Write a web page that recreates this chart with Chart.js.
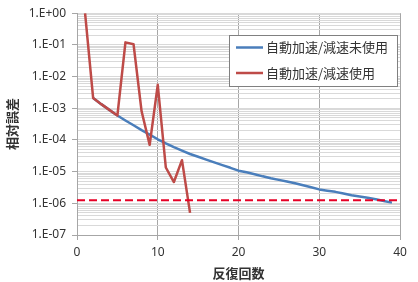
<!DOCTYPE html>
<html><head><meta charset="utf-8">
<script src="https://cdn.jsdelivr.net/npm/chart.js@4/dist/chart.umd.min.js"></script>
<style>html,body{margin:0;padding:0;background:#fff;}canvas{display:block;}</style>
</head><body>
<canvas id="c" width="418" height="282"></canvas>
<script>
// ---- data ----
const seriesNames = ['自動加速/減速未使用', '自動加速/減速使用'];
const iterNoAccel = [2,3,4,5,6,7,8,9,10,11,12,13,14,15,16,17,18,19,20,21,22,23,24,25,26,27,28,29,30,31,32,33,34,35,36,37,38,39];
const errNoAccel  = [2.1e-3,1.35e-3,8.9e-4,5.9e-4,4.1e-4,2.9e-4,2.05e-4,1.48e-4,1.05e-4,7.8e-5,5.9e-5,4.6e-5,3.6e-5,2.95e-5,2.4e-5,1.95e-5,1.6e-5,1.32e-5,1.07e-5,9.5e-6,8.3e-6,7.1e-6,6.2e-6,5.5e-6,4.9e-6,4.3e-6,3.7e-6,3.2e-6,2.75e-6,2.5e-6,2.3e-6,2.05e-6,1.8e-6,1.65e-6,1.5e-6,1.35e-6,1.18e-6,1.05e-6];
const iterAccel = [1,2,3,4,5,6,7,8,9,10,11,12,13,14];
const errAccel  = [1.0,2.1e-3,1.35e-3,8.9e-4,5.9e-4,0.12,0.105,8e-4,7e-5,5.5e-3,1.35e-5,4.7e-6,2.3e-5,5e-7];
const thresholdX = [0, 40];
const thresholdY = [1.26e-6, 1.26e-6];
const yTickLabels = ['1.E+00','1.E-01','1.E-02','1.E-03','1.E-04','1.E-05','1.E-06','1.E-07'];
const xTickLabels = ['0','10','20','30','40'];
const xTitle = '反復回数';
const yTitle = '相対誤差';

// ---- helpers ----
function pts(xs, ys){ return xs.map((x,i)=>({x:x, y:ys[i]})); }
function decadeIndex(v){
  const e = Math.round(Math.log10(v));
  if (Math.abs(v/Math.pow(10,e) - 1) < 1e-6) return -e;
  return -1;
}
const gridValues = [];
for (let e = -7; e <= 0; e++) {
  for (let m = 1; m <= 9; m++) {
    const v = m * Math.pow(10, e);
    if (v <= 1.0000001) gridValues.push(v);
  }
}
const tickFont = {family: '"Noto Sans", "DejaVu Sans", sans-serif', size: 12};
const titleFont = {family: '"Noto Sans CJK JP", sans-serif', size: 13, weight: 'bold'};
const axisGray = '#A6A6A6';
const textColor = '#333333';

const legendPlugin = {
  id: 'boxLegend',
  afterDatasetsDraw(chart) {
    const ctx = chart.ctx;
    ctx.save();
    const bx = 229.5, by = 35.5, bw = 168, bh = 51;
    ctx.fillStyle = '#ffffff';
    ctx.fillRect(bx, by, bw, bh);
    ctx.strokeStyle = '#808080';
    ctx.lineWidth = 1;
    ctx.strokeRect(bx, by, bw, bh);
    const ds = chart.data.datasets;
    const rows = [47.5, 73];
    [0,1].forEach((i) => {
      const y = rows[i];
      ctx.strokeStyle = ds[i].borderColor;
      ctx.lineWidth = 2.5;
      ctx.beginPath(); ctx.moveTo(236, y); ctx.lineTo(263, y); ctx.stroke();
      ctx.fillStyle = textColor;
      ctx.font = '13px "Noto Sans CJK JP", sans-serif';
      ctx.textBaseline = 'middle';
      ctx.textAlign = 'left';
      ctx.fillText(ds[i].label, 266, y);
    });
    ctx.restore();
  }
};

new Chart(document.getElementById('c'), {
  type: 'line',
  data: {
    datasets: [
      { label: seriesNames[0], data: pts(iterNoAccel, errNoAccel), borderColor: 'rgb(74,126,187)', borderWidth: 2.5, pointRadius: 0, tension: 0, order: 2, borderJoinStyle: 'round' },
      { label: seriesNames[1], data: pts(iterAccel, errAccel), borderColor: 'rgb(190,75,72)', borderWidth: 2.5, pointRadius: 0, tension: 0, order: 1, borderJoinStyle: 'round' },
      { label: 'threshold', data: pts(thresholdX, thresholdY), borderColor: 'rgb(230,0,38)', borderWidth: 2, borderDash: [8,4], pointRadius: 0, order: 0 }
    ]
  },
  options: {
    responsive: false,
    animation: false,
    devicePixelRatio: 1,
    layout: { padding: { top: 12, right: 18, left: 0, bottom: 0 } },
    plugins: { legend: { display: false }, tooltip: { enabled: false } },
    scales: {
      x: {
        type: 'linear', min: 0, max: 40,
        afterBuildTicks(scale) { scale.ticks = xTickLabels.map(t => ({value: Number(t)})); },
        ticks: { autoSkip: false, maxRotation: 0, font: tickFont, color: textColor, padding: 5, callback: (v) => xTickLabels[xTickLabels.indexOf(String(v))] },
        grid: { color: axisGray, tickLength: 5, tickColor: axisGray },
        border: { color: axisGray },
        title: { display: true, text: xTitle, font: titleFont, color: textColor, padding: { top: 0, bottom: 1 } },
        afterFit(scale) { scale.height = 47; }
      },
      y: {
        type: 'logarithmic', min: 1e-7, max: 1,
        afterBuildTicks(scale) { scale.ticks = gridValues.map(v => ({value: v})); },
        ticks: { autoSkip: false, font: tickFont, color: textColor, padding: 6,
          callback: (v) => { const i = decadeIndex(v); return i >= 0 ? yTickLabels[i] : ''; } },
        grid: { color: '#D9D9D9', tickLength: 5,
          tickColor: (c) => (c.tick && decadeIndex(c.tick.value) >= 0) ? axisGray : 'rgba(0,0,0,0)' },
        border: { color: axisGray },
        title: { display: true, text: yTitle, font: titleFont, color: textColor, padding: { top: 4, bottom: 0 } },
        afterFit(scale) { scale.width = 77; }
      }
    }
  },
  plugins: [legendPlugin]
});
</script>
</body></html>
